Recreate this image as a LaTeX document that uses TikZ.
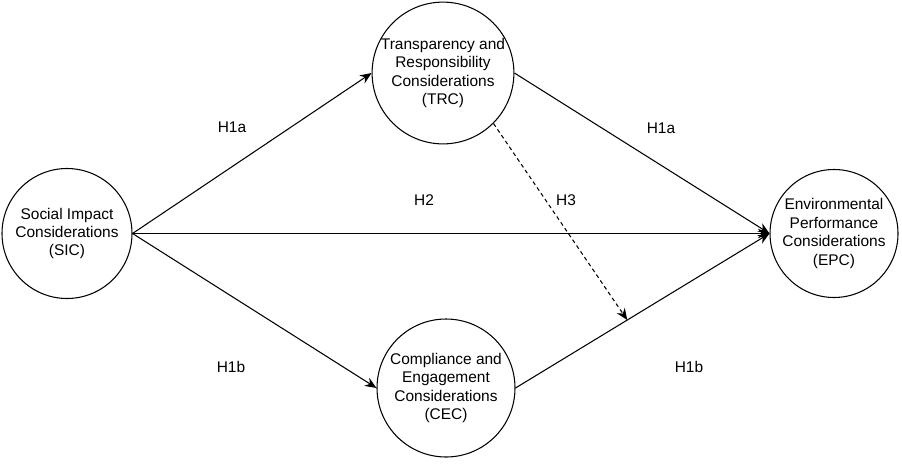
\documentclass[tikz,border=0pt]{standalone}
\usepackage{fontspec}
\setmainfont{Liberation Sans}
\usetikzlibrary{arrows.meta, positioning, calc}
\tikzset{
  cons/.style = {circle, draw=black, fill=white, text=black, inner sep=0pt,
    line width=0.6pt, align=center, font=\fontsize{8.8}{10.5}\selectfont},
  lig/.style = {-{Stealth[length=2.3mm, width=1.9mm]}, line width=0.6pt},
  ligtr/.style = {lig, dash pattern=on 2.2pt off 1.8pt},
  hip/.style = {font=\fontsize{8.8}{10.5}\selectfont}
}

\begin{document}
\begin{tikzpicture}
  \useasboundingbox [fill=white] (0,0) rectangle (18.04,9.34);
  \node [cons, minimum size=2.6cm] (sic) at (1.34,4.67) {Social Impact\\Considerations\\(SIC)};
  \node [cons, minimum size=2.8cm] (trc) at (8.86,7.88) {Transparency and\\Responsibility\\Considerations\\(TRC)};
  \node [cons, minimum size=2.76cm] (cec) at (8.92,1.58) {Compliance and\\Engagement\\Considerations\\(CEC)};
  \node [cons, minimum size=2.56cm] (epc) at (16.68,4.67) {Environmental\\Performance\\Considerations\\(EPC)};
  \draw [lig] (sic.east) -- (trc.west);
  \draw [lig] (sic.east) -- (epc.west);
  \draw [lig] (sic.east) -- (cec.west);
  \draw [lig] (trc.east) -- (epc.west);
  \draw [lig] (cec.east) -- (epc.west);
  \coordinate (h3end) at ($(cec.east)!0.44!(epc.west)$);
  \draw [ligtr] (trc.-45) -- (h3end);
  \node [hip] (h1a) at (4.64,6.80) {H1a};
  \node [hip] (h1a2) at (13.22,6.78) {H1a};
  \node [hip] (h2) at (8.48,5.34) {H2};
  \node [hip] (h3) at (11.32,5.34) {H3};
  \node [hip] (h1b) at (4.62,2.0) {H1b};
  \node [hip] (h1b2) at (13.78,2.0) {H1b};
\end{tikzpicture}
\end{document}
